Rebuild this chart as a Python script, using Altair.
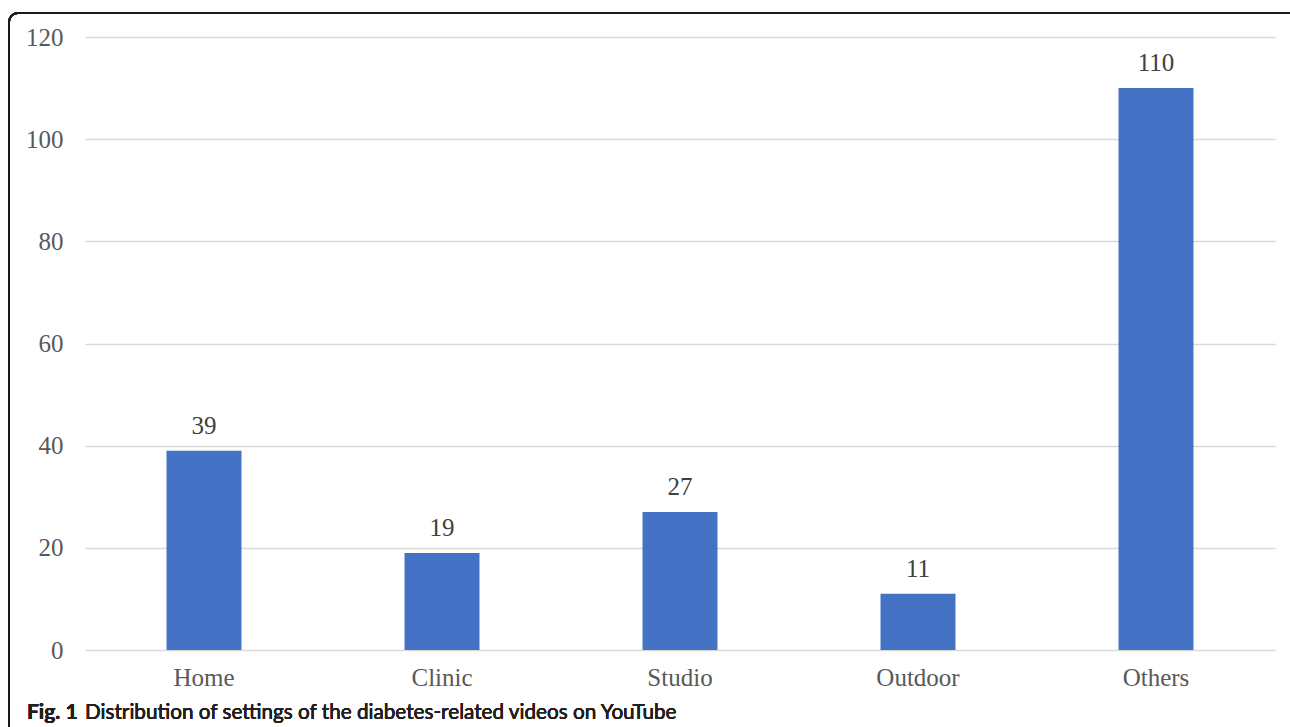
import altair as alt
import pandas as pd

# Video settings and counts
settings = ["Home", "Clinic", "Studio", "Outdoor", "Others"]
counts = [39, 19, 27, 11, 110]
y_ticks = [0, 20, 40, 60, 80, 100, 120]

df = pd.DataFrame({"setting": settings, "count": counts})

PLOT_W, PLOT_H = 1190, 613
LABEL_COLOR = "#595959"

x_enc = alt.X(
    "setting:N",
    sort=settings,
    scale=alt.Scale(paddingInner=0.685, paddingOuter=0.3425),
    axis=alt.Axis(
        title=None, labelAngle=0, domain=False, ticks=False,
        labelFont="Liberation Serif", labelFontSize=25,
        labelColor=LABEL_COLOR, labelPadding=15,
    ),
)
y_enc = alt.Y(
    "count:Q",
    scale=alt.Scale(domain=[0, 120], nice=False),
    axis=alt.Axis(
        title=None, values=y_ticks, domain=False, ticks=False,
        labelFont="Liberation Serif", labelFontSize=25,
        labelColor=LABEL_COLOR, labelPadding=22,
        gridColor="#d9d9d9", gridWidth=1.6,
    ),
)

bars = alt.Chart(df).mark_bar(color="#4472c4").encode(x=x_enc, y=y_enc)

values = alt.Chart(df).mark_text(
    baseline="bottom", dy=-12, font="Liberation Serif", fontSize=25,
    color="#404040",
).encode(x=alt.X("setting:N", sort=settings), y="count:Q", text="count:Q")

# Rounded frame around the figure
frame = alt.Chart(df).mark_rect(
    filled=False, stroke="#1a1a1a", strokeWidth=2, cornerRadius=9,
).encode(
    x=alt.value(-76), x2=alt.value(PLOT_W + 28),
    y=alt.value(-24), y2=alt.value(PLOT_H + 120),
)

cap_bold = alt.Chart(df).mark_text(
    align="left", baseline="alphabetic", font="Lato",
    fontWeight="bold", fontSize=21, color="#231f20",
).encode(x=alt.value(-58), y=alt.value(PLOT_H + 69), text=alt.value("Fig. 1"))

cap_text = alt.Chart(df).mark_text(
    align="left", baseline="alphabetic", font="Lato",
    fontSize=20.7, color="#231f20",
).encode(
    x=alt.value(0), y=alt.value(PLOT_H + 69),
    text=alt.value("Distribution of settings of the diabetes-related videos on YouTube"),
)

chart = (
    alt.layer(bars, values, frame, cap_bold, cap_text)
    .properties(
        width=PLOT_W, height=PLOT_H,
        autosize=alt.AutoSizeParams(type="none"),
        padding={"left": 85, "top": 37, "right": 15, "bottom": 77},
        background="white",
    )
    .configure_view(stroke=None)
)

chart.save("out.html", embed_options={"renderer": "svg", "actions": False})
